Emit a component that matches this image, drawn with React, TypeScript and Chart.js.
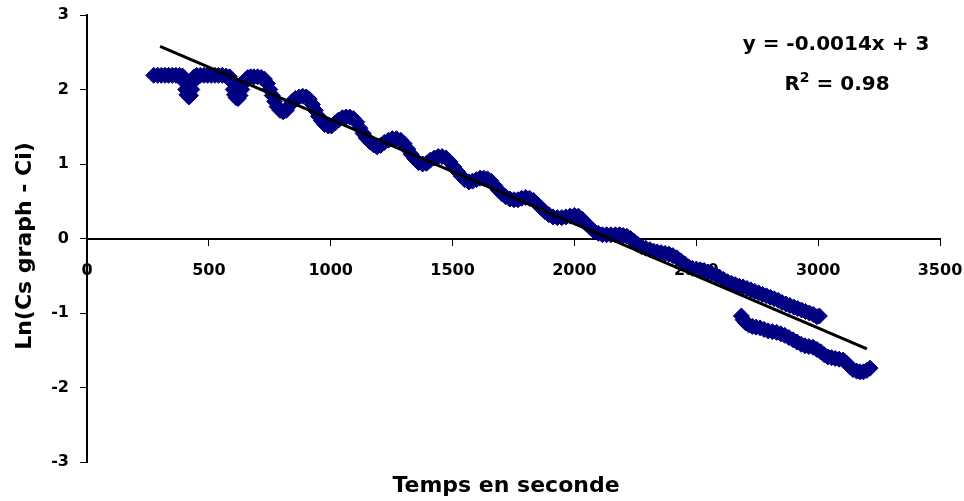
import React, { useEffect, useRef } from 'react';
import { Chart, registerables } from 'chart.js';

Chart.register(...registerables);

// Measured series (time in s, ln value)
const timeMain = [
  274, 290, 305, 320, 335, 350, 365, 380, 392, 400, 405, 410, 418, 425, 430, 435, 440, 450, 465, 480,
  495, 510, 525, 540, 555, 570, 585, 595, 600, 605, 612, 620, 628, 635, 642, 650, 660, 672, 685, 700,
  715, 728, 740, 750, 760, 770, 780, 792, 805, 818, 830, 842, 855, 870, 885, 900, 912, 925, 937, 950,
  962, 975, 990, 1003, 1018, 1032, 1048, 1063, 1078, 1093, 1107, 1120, 1133, 1146, 1160, 1175, 1190, 1205, 1220, 1237,
  1253, 1270, 1287, 1302, 1316, 1330, 1345, 1360, 1377, 1393, 1408, 1425, 1441, 1457, 1473, 1489, 1505, 1520, 1535, 1550,
  1567, 1582, 1598, 1613, 1628, 1643, 1658, 1673, 1688, 1703, 1718, 1735, 1752, 1768, 1783, 1800, 1816, 1832, 1848, 1863,
  1879, 1895, 1912, 1930, 1948, 1965, 1982, 2000, 2016, 2032, 2048, 2064, 2080, 2098, 2115, 2132, 2150, 2168, 2185, 2200,
  2215, 2230, 2245, 2260, 2275, 2292, 2310, 2325, 2340, 2356, 2372, 2388, 2404, 2420, 2436, 2452, 2468, 2484, 2500, 2516,
  2532, 2548, 2564, 2580, 2596, 2612, 2628, 2644, 2660, 2676, 2692, 2708, 2724, 2740, 2756, 2772, 2788, 2804, 2820, 2836,
  2852, 2868, 2884, 2900, 2916, 2932, 2948, 2964, 2980, 2995, 3005,
];
const lnMain = [
  2.19, 2.19, 2.19, 2.19, 2.19, 2.19, 2.19, 2.19, 2.18, 2.10, 2.00, 1.93, 1.90, 1.92, 2.00, 2.10, 2.17, 2.19, 2.19, 2.19,
  2.19, 2.19, 2.19, 2.19, 2.19, 2.18, 2.17, 2.10, 2.00, 1.93, 1.89, 1.88, 1.92, 2.00, 2.08, 2.13, 2.16, 2.17, 2.17, 2.17,
  2.16, 2.14, 2.08, 2.00, 1.92, 1.84, 1.77, 1.72, 1.70, 1.72, 1.78, 1.84, 1.88, 1.90, 1.91, 1.90, 1.87, 1.80, 1.72, 1.64,
  1.58, 1.53, 1.51, 1.51, 1.55, 1.59, 1.62, 1.63, 1.63, 1.61, 1.56, 1.48, 1.41, 1.35, 1.30, 1.26, 1.23, 1.25, 1.29, 1.32,
  1.34, 1.34, 1.32, 1.27, 1.20, 1.13, 1.07, 1.02, 1.00, 1.01, 1.05, 1.08, 1.10, 1.10, 1.08, 1.03, 0.96, 0.90, 0.84, 0.79,
  0.76, 0.77, 0.79, 0.81, 0.81, 0.80, 0.77, 0.71, 0.65, 0.60, 0.56, 0.53, 0.52, 0.52, 0.54, 0.55, 0.54, 0.51, 0.46, 0.41,
  0.36, 0.32, 0.29, 0.28, 0.28, 0.29, 0.30, 0.31, 0.30, 0.26, 0.20, 0.15, 0.10, 0.07, 0.05, 0.05, 0.05, 0.05, 0.05, 0.04,
  0.03, 0.00, -0.04, -0.08, -0.11, -0.13, -0.15, -0.17, -0.18, -0.19, -0.20, -0.21, -0.23, -0.26, -0.30, -0.34, -0.38, -0.40, -0.41, -0.42,
  -0.43, -0.45, -0.47, -0.49, -0.52, -0.55, -0.58, -0.60, -0.62, -0.64, -0.65, -0.67, -0.69, -0.71, -0.73, -0.75, -0.77, -0.79, -0.81, -0.83,
  -0.86, -0.88, -0.90, -0.92, -0.94, -0.96, -0.98, -1.00, -1.02, -1.05, -1.04,
];
const timeSecond = [
  2685, 2692, 2702, 2715, 2730, 2745, 2762, 2778, 2795, 2812, 2830, 2847, 2863, 2880, 2897, 2913, 2930, 2946,
  2962, 2979, 2995, 3010, 3025, 3040, 3055, 3070, 3086, 3102, 3116, 3130, 3143, 3158, 3172, 3186, 3200, 3213,
];
const lnSecond = [
  -1.04, -1.09, -1.13, -1.16, -1.18, -1.19, -1.20, -1.22, -1.24, -1.25, -1.26, -1.28, -1.30, -1.33, -1.36, -1.39, -1.42, -1.44,
  -1.45, -1.46, -1.49, -1.52, -1.56, -1.59, -1.60, -1.61, -1.62, -1.63, -1.67, -1.72, -1.76, -1.78, -1.79, -1.79, -1.77, -1.74,
];
const trendTime = [300, 3200];
const trendLn = [2.58, -1.48];

const xTicks = [0, 500, 1000, 1500, 2000, 2500, 3000, 3500];
const yTicks = [-3, -2, -1, 0, 1, 2, 3];

const xTitle = 'Temps en seconde';
const yTitle = 'Ln(Cs graph - Ci)';
const equationText = 'y = -0.0014x + 3';
const r2Text = '0.98';

const NAVY = '#000080';
const FONT = '"DejaVu Sans", Verdana, sans-serif';

export default function App() {
  const canvasRef = useRef<HTMLCanvasElement | null>(null);

  useEffect(() => {
    const canvas = canvasRef.current;
    if (!canvas) return;

    const textPlugin = {
      id: 'excelText',
      afterDraw(chart: any) {
        const ctx = chart.ctx as CanvasRenderingContext2D;
        ctx.save();
        ctx.fillStyle = '#000';
        ctx.textBaseline = 'alphabetic';
        // x title
        ctx.font = `bold 22px ${FONT}`;
        ctx.textAlign = 'center';
        ctx.fillText(xTitle, 506, 492);
        // y title
        ctx.save();
        ctx.translate(31, 246);
        ctx.rotate(-Math.PI / 2);
        ctx.textAlign = 'center';
        ctx.fillText(yTitle, 0, 0);
        ctx.restore();
        // equation
        ctx.font = `bold 20px ${FONT}`;
        ctx.textAlign = 'center';
        ctx.fillText(equationText, 836, 50);
        // R^2 line
        ctx.textAlign = 'left';
        const mainFont = `bold 20px ${FONT}`;
        const supFont = `bold 14px ${FONT}`;
        ctx.font = mainFont;
        const wR = ctx.measureText('R').width;
        const rest = ' = ' + r2Text;
        const wRest = ctx.measureText(rest).width;
        ctx.font = supFont;
        const wSup = ctx.measureText('2').width;
        let x = 837 - (wR + wSup + wRest) / 2;
        ctx.font = mainFont;
        ctx.fillText('R', x, 90);
        x += wR;
        ctx.font = supFont;
        ctx.fillText('2', x, 82);
        x += wSup;
        ctx.font = mainFont;
        ctx.fillText(rest, x, 90);
        ctx.restore();
      },
    };

    const tickFont = { family: FONT, weight: 'bold' as const, size: 16 };

    const chart = new Chart(canvas, {
      type: 'scatter',
      data: {
        datasets: [
          {
            label: 'trend',
            data: trendTime.map((t, i) => ({ x: t, y: trendLn[i] })),
            showLine: true,
            borderColor: '#000',
            borderWidth: 3,
            pointRadius: 0,
            fill: false,
          },
          {
            label: 'main',
            data: timeMain.map((t, i) => ({ x: t, y: lnMain[i] })),
            pointStyle: 'rectRot',
            pointRadius: 8,
            pointBorderWidth: 1,
            backgroundColor: NAVY,
            borderColor: NAVY,
            showLine: false,
          },
          {
            label: 'second',
            data: timeSecond.map((t, i) => ({ x: t, y: lnSecond[i] })),
            pointStyle: 'rectRot',
            pointRadius: 8,
            pointBorderWidth: 1,
            backgroundColor: NAVY,
            borderColor: NAVY,
            showLine: false,
          },
        ],
      },
      options: {
        animation: false,
        responsive: true,
        maintainAspectRatio: false,
        layout: { padding: { top: 15, right: 24, bottom: 39, left: 0 } },
        plugins: {
          legend: { display: false },
          tooltip: { enabled: false },
          title: { display: false },
        },
        scales: {
          x: {
            type: 'linear',
            position: { y: 0 } as any,
            min: 0,
            max: 3500,
            afterBuildTicks: (s: any) => {
              s.ticks = xTicks.map((v) => ({ value: v }));
            },
            afterFit: (s: any) => {
              s.paddingLeft = 0;
              s.paddingRight = 0;
            },
            grid: { drawOnChartArea: false, drawTicks: true, tickLength: 6, color: '#000', lineWidth: 1 },
            border: { display: true, color: '#000', width: 2 },
            ticks: {
              color: '#000',
              font: tickFont,
              padding: 17,
              maxRotation: 0,
              autoSkip: false,
              callback: (v: any) => String(v),
            },
          },
          y: {
            type: 'linear',
            position: 'left',
            min: -3,
            max: 3,
            afterBuildTicks: (s: any) => {
              s.ticks = yTicks.map((v) => ({ value: v }));
            },
            afterFit: (s: any) => {
              s.width = 87;
              s.paddingTop = 0;
              s.paddingBottom = 0;
            },
            grid: { drawOnChartArea: false, drawTicks: true, tickLength: 7, color: '#000', lineWidth: 1 },
            border: { display: true, color: '#000', width: 2 },
            ticks: { color: '#000', font: tickFont, padding: 11, callback: (v: any) => String(v) },
          },
        },
      },
      plugins: [textPlugin],
    });

    return () => chart.destroy();
  }, []);

  return (
    <div style={{ position: 'absolute', left: 0, top: 0, width: 964, height: 501, background: '#fff' }}>
      <canvas ref={canvasRef} />
    </div>
  );
}
